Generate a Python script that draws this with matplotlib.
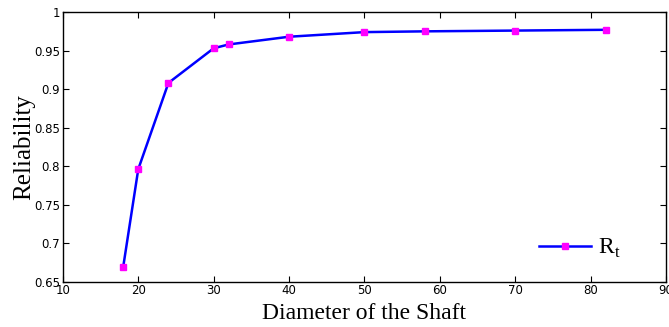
import matplotlib
matplotlib.use("Agg")
import matplotlib.pyplot as plt

# shaft diameter vs reliability
diameter = [18, 20, 24, 30, 32, 40, 50, 58, 70, 82]
reliability = [0.669, 0.796, 0.908, 0.953, 0.958, 0.968, 0.974, 0.975, 0.976, 0.977]
x_ticks = [10, 20, 30, 40, 50, 60, 70, 80, 90]
y_ticks = [0.65, 0.7, 0.75, 0.8, 0.85, 0.9, 0.95, 1]
y_tick_labels = ["0.65", "0.7", "0.75", "0.8", "0.85", "0.9", "0.95", "1"]

fig = plt.figure(figsize=(6.69, 3.27), dpi=100)
ax = fig.add_axes([0.094, 0.139, 0.9015, 0.824])

ax.plot(diameter, reliability, color="#0000ff", linewidth=1.8,
        marker="s", markersize=4.5, markerfacecolor="#ff00ff",
        markeredgecolor="#ff00ff", label=r"R$_\mathregular{t}$")

ax.set_xlim(10, 90)
ax.set_ylim(0.65, 1)
ax.set_xticks(x_ticks)
ax.set_yticks(y_ticks)
ax.set_yticklabels(y_tick_labels)

for lab in ax.get_xticklabels() + ax.get_yticklabels():
    lab.set_fontfamily("Liberation Sans Narrow")
    lab.set_fontsize(8.5)

ax.tick_params(direction="in", top=True, right=True, length=4, width=0.8, pad=2)
for sp in ax.spines.values():
    sp.set_linewidth(1.0)

ax.set_xlabel("Diameter of the Shaft", fontfamily="Liberation Serif", fontsize=17, labelpad=4)
ax.set_ylabel("Reliability", fontfamily="Liberation Serif", fontsize=18, labelpad=-0.5)

leg = ax.legend(loc="lower right", frameon=False, bbox_to_anchor=(0.96, 0.0),
                prop={"family": "Liberation Serif", "size": 17},
                handlelength=2.2, handletextpad=0.3)

fig.savefig("out.png", dpi=100)
